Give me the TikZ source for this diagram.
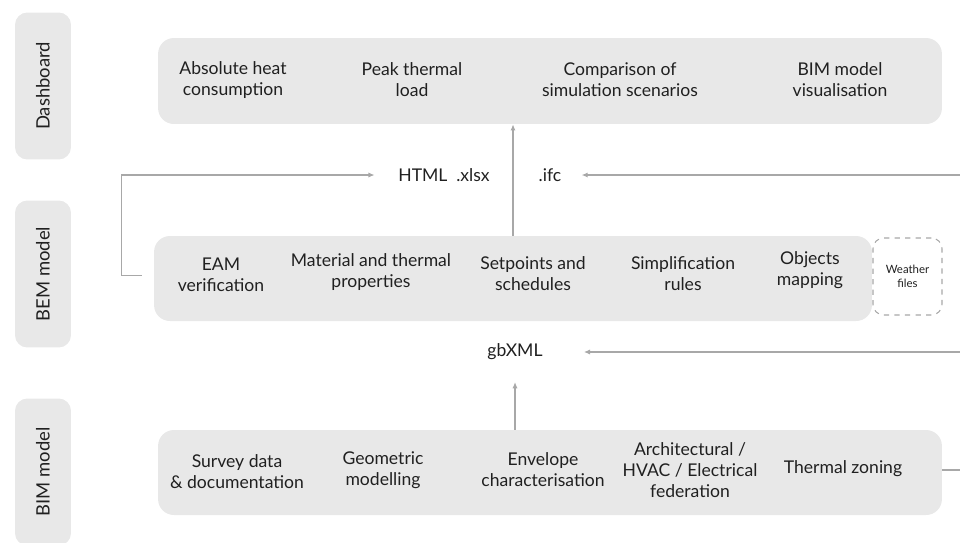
\documentclass[tikz,border=0pt]{standalone}
\usepackage{fontspec}
\setmainfont{Lato}
\usetikzlibrary{arrows.meta}
\definecolor{boxgray}{HTML}{E8E8E8}
\definecolor{linegray}{HTML}{A8A8A8}
\definecolor{inkgray}{HTML}{202020}
\tikzset{
    lane/.style={fill=boxgray, rounded corners=7pt, minimum width=1.12cm, minimum height=2.94cm, text=inkgray, font=\fontsize{10.5}{12}\selectfont},
    band/.style={fill=boxgray, rounded corners=9pt},
    item/.style={align=center, text=inkgray, font=\fontsize{10}{12}\selectfont},
    fmt/.style={text=inkgray, font=\fontsize{10}{12}\selectfont},
    link/.style={draw=linegray, line width=0.8pt},
    tip/.style={-{Latex[length=3.5pt,width=3pt]}}
}
\begin{document}
\begin{tikzpicture}[x=0.02cm, y=-0.02cm]
        \useasboundingbox (0,0) rectangle (960,542);

        \node[lane] (laneDash) at (43,86) {\rotatebox{90}{Dashboard}};
        \node[lane] (laneBEM) at (43,274) {\rotatebox{90}{BEM model}};
        \node[lane] (laneBIM) at (43,472) {\rotatebox{90}{BIM model}};

        \node[band, minimum width=15.68cm, minimum height=1.72cm] (dash) at (550,81) {};
        \node[band, minimum width=14.36cm, minimum height=1.70cm] (bem) at (513,278.5) {};
        \node[band, minimum width=15.68cm, minimum height=1.70cm] (bim) at (550,472.5) {};
        \node[draw=linegray, dashed, line width=0.6pt, rounded corners=6pt, minimum width=1.38cm, minimum height=1.54cm,
              align=center, text=inkgray, font=\fontsize{6.5}{8}\selectfont] (weather) at (907.5,276.5) {Weather\\files};

        \node[item] (absHeat) at (233,80) {Absolute heat\\consumption};
        \node[item] (peakLoad) at (412,80) {Peak thermal\\load};
        \node[item] (scenarios) at (620,80) {Comparison of\\simulation scenarios};
        \node[item] (bimVis) at (840,80) {BIM model\\visualisation};

        \node[item] (eam) at (221,275) {EAM\\verification};
        \node[item] (material) at (371,272) {Material and thermal\\properties};
        \node[item] (setpoints) at (533,274) {Setpoints and\\schedules};
        \node[item] (simplif) at (683,274) {Simplification\\rules};
        \node[item] (objects) at (810,270) {Objects\\mapping};

        \node[item] (survey) at (237,472) {Survey data\\\& documentation};
        \node[item] (geometric) at (383,470) {Geometric\\modelling};
        \node[item] (envelope) at (543,470) {Envelope\\characterisation};
        \node[item] (federation) at (690,470) {Architectural /\\HVAC / Electrical\\federation};
        \node[item] (zoning) at (843,469) {Thermal zoning};

        \node[fmt] (html) at (444,175) {HTML\enspace.xlsx};
        \node[fmt] (ifc) at (550,175) {.ifc};
        \node[fmt] (gbxml) at (515,352) {gbXML};

        \coordinate (upDash) at (513,0);
        \coordinate (upBEM) at (515,0);
        \coordinate (ifcSrc) at (962,175);
        \coordinate (gbSrc) at (962,352);
        \coordinate (zoneOut) at (962,470);

        \draw[link, tip] (upDash |- bem.north) -- (upDash |- dash.south);
        \draw[link, tip] (bem.west) ++(-12,-3) -- ++(-20,0) |- ([xshift=-10pt]html.west);
        \draw[link, tip] (ifcSrc) -- ([xshift=8pt]ifc.east);
        \draw[link, tip] (upBEM |- bim.north) -- ([yshift=-9pt]upBEM |- gbxml.south);
        \draw[link, tip] (gbSrc) -- ([xshift=20pt]gbxml.east);
        \draw[link] (bim.east |- zoneOut) -- (zoneOut);
    \end{tikzpicture}
\end{document}
